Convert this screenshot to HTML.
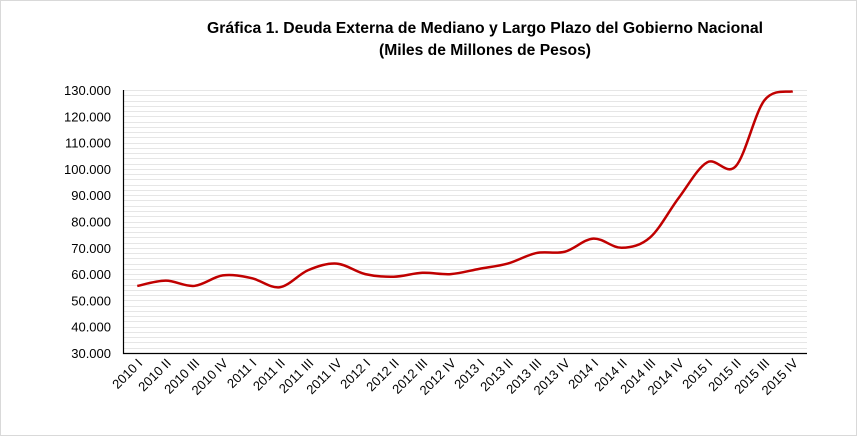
<!DOCTYPE html>
<html><head><meta charset="utf-8"><style>body{margin:0;background:#fff}svg{display:block}</style></head><body>
<svg id="s" width="857" height="436" xmlns="http://www.w3.org/2000/svg" font-family="Liberation Sans, Arial, sans-serif">
<rect x="0.5" y="0.5" width="856" height="435" fill="#fff" stroke="#d9d9d9"/>
<text x="485" y="33" font-size="15.5" font-weight="bold" text-anchor="middle" textLength="556" lengthAdjust="spacingAndGlyphs">Gráfica 1. Deuda Externa de Mediano y Largo Plazo del Gobierno Nacional</text>
<text x="485" y="55" font-size="15.5" font-weight="bold" text-anchor="middle" textLength="212" lengthAdjust="spacingAndGlyphs">(Miles de Millones de Pesos)</text>
<g id="grid" stroke="#e6e6e6" stroke-width="1"></g>
<g id="yl" font-size="13" fill="#000" text-anchor="end"></g>
<g id="xl" font-size="13" fill="#000" text-anchor="end"></g>
<path id="ln" fill="none" stroke="#c00000" stroke-width="2.5"/>
<path d="M123.5 90V353.5H807" fill="none" stroke="#000" stroke-width="1.2"/>
</svg>
<script>
const ns="http://www.w3.org/2000/svg",X0=123,X1=807,Y=v=>353-(v-30000)/100000*263;
const g=document.getElementById('grid'),yl=document.getElementById('yl'),xl=document.getElementById('xl');
for(let v=32000;v<=130000;v+=2000){const l=document.createElementNS(ns,'line');const y=Math.round(Y(v))+.5;l.setAttribute('x1',X0);l.setAttribute('x2',X1);l.setAttribute('y1',y);l.setAttribute('y2',y);g.appendChild(l);}
for(let v=30000;v<=130000;v+=10000){const t=document.createElementNS(ns,'text');t.setAttribute('x',111);t.setAttribute('y',Y(v)+5);t.textContent=(v/1000)+'.000';yl.appendChild(t);}
const labs=[];['2010','2011','2012','2013','2014','2015'].forEach(y=>['I','II','III','IV'].forEach(q=>labs.push(y+' '+q)));
const vals=[55.5,57.5,55.5,59.5,58.5,55,61.5,64,60,59,60.5,60,62,64,68,68.5,73.5,70,74,89,102.5,101,126,129.5].map(v=>v*1000);
const step=(X1-X0)/24,pts=vals.map((v,i)=>[X0+step*(i+.5),Y(v)]);
labs.forEach((s,i)=>{const t=document.createElementNS(ns,'text');const x=pts[i][0]+6,y=364;t.setAttribute('transform',`translate(${x},${y}) rotate(-45)`);t.textContent=s;xl.appendChild(t);});
let d=`M${pts[0]}`;for(let i=0;i<pts.length-1;i++){const p0=pts[Math.max(0,i-1)],p1=pts[i],p2=pts[i+1],p3=pts[Math.min(pts.length-1,i+2)];const c1=[p1[0]+(p2[0]-p0[0])/6,p1[1]+(p2[1]-p0[1])/6],c2=[p2[0]-(p3[0]-p1[0])/6,p2[1]-(p3[1]-p1[1])/6];d+=`C${c1} ${c2} ${p2}`;}
document.getElementById('ln').setAttribute('d',d);
</script>
</body></html>
